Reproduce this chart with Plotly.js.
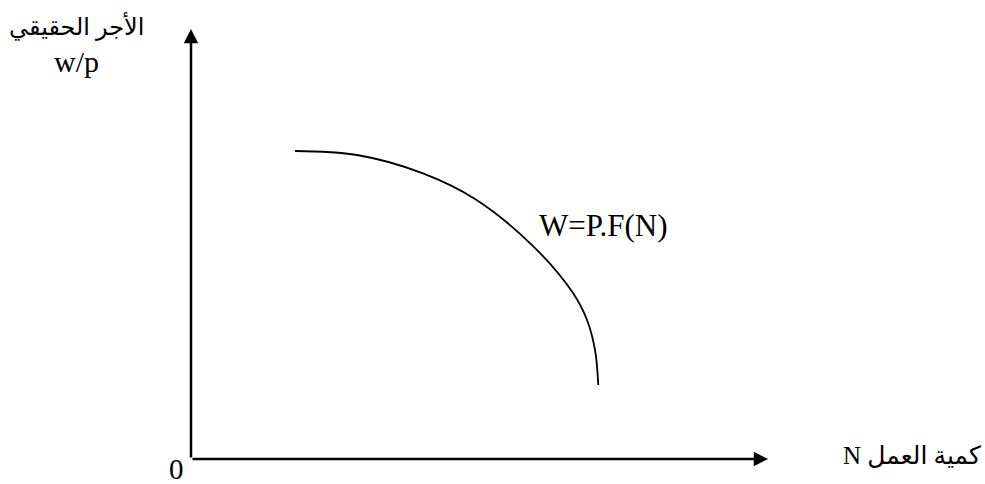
<!DOCTYPE html>
<html>
<head>
<meta charset="utf-8">
<script src="https://cdn.plot.ly/plotly-3.0.1.min.js"></script>
<style>html,body{margin:0;padding:0;background:#fff;}#chart{width:985px;height:484px;}</style>
</head>
<body>
<div id="chart"></div>
<script>
const curveN  = [1.793, 2.862, 4.000, 4.897, 5.897, 6.586, 6.828, 6.966, 7.022];
const curveWP = [7.163, 7.070, 6.644, 6.047, 4.953, 3.860, 3.233, 2.535, 1.721];

const curveLabel = "W=P.F(N)";
const yTitleArabic = "الأجر الحقيقي";
const yTitleLatin = "w/p";
const xTitle = "N كمية العمل";
const originLabel = "0";

const xMax = 9.95, yMax = 10;

const serif = "Liberation Serif, Times New Roman, DejaVu Serif, serif";
const arab = "Liberation Serif, DejaVu Sans, Noto Sans, serif";

const trace = {
  x: curveN, y: curveWP, mode: "lines", type: "scatter",
  line: {color: "#000", width: 1.8, shape: "spline", smoothing: 1},
  hoverinfo: "skip", cliponaxis: false
};

const layout = {
  width: 985, height: 484,
  margin: {l: 191, r: 214, t: 29, b: 25, pad: 0},
  paper_bgcolor: "#fff", plot_bgcolor: "#fff",
  showlegend: false,
  xaxis: {range: [0, 10], visible: false, fixedrange: true},
  yaxis: {range: [0, 10], visible: false, fixedrange: true},
  annotations: [
    {x: xMax, y: 0, ax: 0, ay: 0, xref: "x", yref: "y", axref: "x", ayref: "y",
     showarrow: true, arrowhead: 2, arrowsize: 1.15, arrowwidth: 2.5, arrowcolor: "#000", text: "", standoff: 0, startstandoff: 0},
    {x: 0, y: yMax, ax: 0, ay: 0, xref: "x", yref: "y", axref: "x", ayref: "y",
     showarrow: true, arrowhead: 2, arrowsize: 1.15, arrowwidth: 2.5, arrowcolor: "#000", text: "", standoff: 0, startstandoff: 0},
    {x: 7.12, y: 5.42, xref: "x", yref: "y", text: curveLabel, showarrow: false,
     font: {family: serif, size: 31, color: "#000"}, xanchor: "center", yanchor: "middle"},
    {x: -0.197, y: 1.005, xref: "paper", yref: "paper", text: yTitleArabic, showarrow: false,
     font: {family: arab, size: 24, color: "#000"}, xanchor: "center", yanchor: "middle"},
    {x: -0.197, y: 0.925, xref: "paper", yref: "paper", text: yTitleLatin, showarrow: false,
     font: {family: serif, size: 30, color: "#000"}, xanchor: "center", yanchor: "middle"},
    {x: -0.025, y: -0.023, xref: "paper", yref: "paper", text: originLabel, showarrow: false,
     font: {family: serif, size: 29, color: "#000"}, xanchor: "center", yanchor: "middle"},
    {x: 1.243, y: 0.009, xref: "paper", yref: "paper", text: xTitle, showarrow: false,
     font: {family: arab, size: 25, color: "#000"}, xanchor: "center", yanchor: "middle"}
  ]
};

Plotly.newPlot("chart", [trace], layout, {staticPlot: true, displayModeBar: false});
</script>
</body>
</html>
